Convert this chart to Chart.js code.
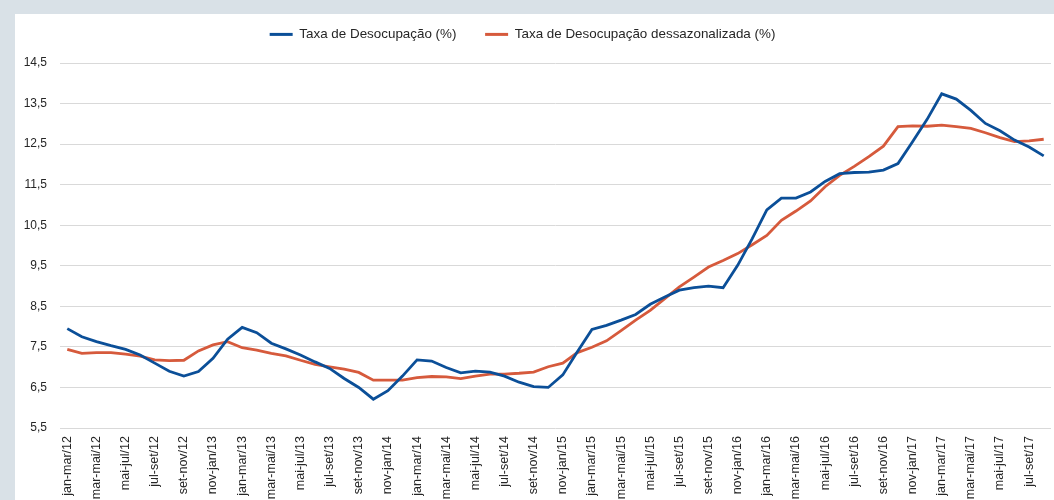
<!DOCTYPE html>
<html>
<head>
<meta charset="utf-8">
<script src="https://cdn.jsdelivr.net/npm/chart.js@4.4.1/dist/chart.umd.min.js"></script>
<style>
  html, body { margin: 0; padding: 0; width: 1054px; height: 500px; overflow: hidden; background: #d9e1e7; }
  #panel { position: absolute; left: 15px; top: 14px; right: 0; bottom: 0; background: #ffffff; }
  #wrap { position: absolute; left: -6px; top: -1px; width: 1057px; height: 501px; }
</style>
</head>
<body>
<div id="panel"></div>
<div id="wrap"><canvas id="c"></canvas></div>
<script>
const categories = [
  'jan-mar/12','fev-abr/12','mar-mai/12','abr-jun/12','mai-jul/12','jun-ago/12','jul-set/12','ago-out/12','set-nov/12','out-dez/12','nov-jan/13','dez-fev/13',
  'jan-mar/13','fev-abr/13','mar-mai/13','abr-jun/13','mai-jul/13','jun-ago/13','jul-set/13','ago-out/13','set-nov/13','out-dez/13','nov-jan/14','dez-fev/14',
  'jan-mar/14','fev-abr/14','mar-mai/14','abr-jun/14','mai-jul/14','jun-ago/14','jul-set/14','ago-out/14','set-nov/14','out-dez/14','nov-jan/15','dez-fev/15',
  'jan-mar/15','fev-abr/15','mar-mai/15','abr-jun/15','mai-jul/15','jun-ago/15','jul-set/15','ago-out/15','set-nov/15','out-dez/15','nov-jan/16','dez-fev/16',
  'jan-mar/16','fev-abr/16','mar-mai/16','abr-jun/16','mai-jul/16','jun-ago/16','jul-set/16','ago-out/16','set-nov/16','out-dez/16','nov-jan/17','dez-fev/17',
  'jan-mar/17','fev-abr/17','mar-mai/17','abr-jun/17','mai-jul/17','jun-ago/17','jul-set/17','ago-out/17'
];

const taxaDesocupacao = [
  7.95, 7.75, 7.63, 7.53, 7.44, 7.30, 7.10, 6.90, 6.78, 6.89, 7.22, 7.69,
  7.98, 7.85, 7.59, 7.45, 7.30, 7.13, 6.97, 6.72, 6.50, 6.21, 6.42, 6.78,
  7.18, 7.15, 6.99, 6.86, 6.90, 6.88, 6.78, 6.63, 6.52, 6.50, 6.81, 7.38,
  7.93, 8.03, 8.16, 8.30, 8.55, 8.73, 8.90, 8.96, 9.00, 8.96, 9.51, 10.17,
  10.88, 11.17, 11.17, 11.32, 11.58, 11.77, 11.80, 11.81, 11.86, 12.02, 12.56, 13.11,
  13.74, 13.61, 13.33, 13.01, 12.83, 12.60, 12.43, 12.21
];

const taxaDessazonalizada = [
  7.44, 7.34, 7.36, 7.36, 7.32, 7.27, 7.18, 7.16, 7.17, 7.40, 7.55, 7.63,
  7.48, 7.42, 7.34, 7.28, 7.17, 7.07, 7.01, 6.95, 6.87, 6.68, 6.68, 6.68,
  6.74, 6.77, 6.76, 6.72, 6.78, 6.83, 6.83, 6.85, 6.88, 7.01, 7.10, 7.36,
  7.49, 7.65, 7.90, 8.16, 8.40, 8.69, 8.98, 9.22, 9.47, 9.63, 9.80, 10.02,
  10.25, 10.62, 10.85, 11.10, 11.45, 11.73, 11.95, 12.19, 12.45, 12.93, 12.95, 12.94,
  12.97, 12.93, 12.89, 12.78, 12.66, 12.56, 12.58, 12.62
];

const seriesNames = ['Taxa de Desocupação (%)', 'Taxa de Desocupação dessazonalizada (%)'];
const yMin = 5.5, yMax = 14.5, yStep = 1;

const FONT = '"Liberation Sans", Arial, sans-serif';
const TEXT = '#262626';

const legendFix = {
  id: 'legendFix',
  beforeLayout(chart) {
    const lg = chart.legend;
    if (lg && !lg._fixed) {
      const orig = lg.fit;
      lg.fit = function () { orig.call(this); this.height = 64; };
      lg._fixed = true;
    }
  }
};

new Chart(document.getElementById('c'), {
  type: 'line',
  data: {
    labels: categories,
    datasets: [
      { label: seriesNames[0], data: taxaDesocupacao, borderColor: '#0b4f98', backgroundColor: '#0b4f98',
        borderWidth: 2.8, pointRadius: 0, pointHoverRadius: 0, tension: 0, fill: false },
      { label: seriesNames[1], data: taxaDessazonalizada, borderColor: '#d65a3c', backgroundColor: '#d65a3c',
        borderWidth: 2.8, pointRadius: 0, pointHoverRadius: 0, tension: 0, fill: false }
    ]
  },
  options: {
    responsive: true,
    maintainAspectRatio: false,
    animation: false,
    layout: { padding: { left: 0, right: 0, top: 0, bottom: 0 } },
    plugins: {
      tooltip: { enabled: false },
      legend: {
        position: 'top',
        align: 'center',
        labels: {
          boxWidth: 23,
          boxHeight: 3,
          padding: 28.7,
          color: TEXT,
          font: { family: FONT, size: 13.4 },
          generateLabels: function (chart) {
            return Chart.defaults.plugins.legend.labels.generateLabels(chart)
              .map(function (l) { l.lineWidth = 0; return l; });
          }
        }
      }
    },
    scales: {
      x: {
        offset: true,
        grid: { display: false, drawTicks: false },
        border: { display: false },
        ticks: {
          autoSkip: false,
          maxRotation: 90,
          minRotation: 90,
          padding: 8,
          color: TEXT,
          font: { family: FONT, size: 12.5 },
          callback: function (v, i) { return i % 2 === 0 ? categories[i] : ''; }
        },
        afterFit(scale) { scale.height = 72; scale.paddingLeft = 0; scale.paddingRight = 0; }
      },
      y: {
        min: yMin,
        max: yMax,
        grid: { color: '#d9d9d9', lineWidth: 1, drawTicks: false },
        border: { display: false },
        ticks: {
          stepSize: yStep,
          padding: 13,
          color: TEXT,
          font: { family: FONT, size: 12 },
          callback: function (v) { return Number(v).toFixed(1).replace('.', ','); }
        },
        afterFit(scale) { scale.width = 66; scale.paddingTop = 0; scale.paddingBottom = 0; }
      }
    }
  },
  plugins: [legendFix]
});
</script>
</body>
</html>
